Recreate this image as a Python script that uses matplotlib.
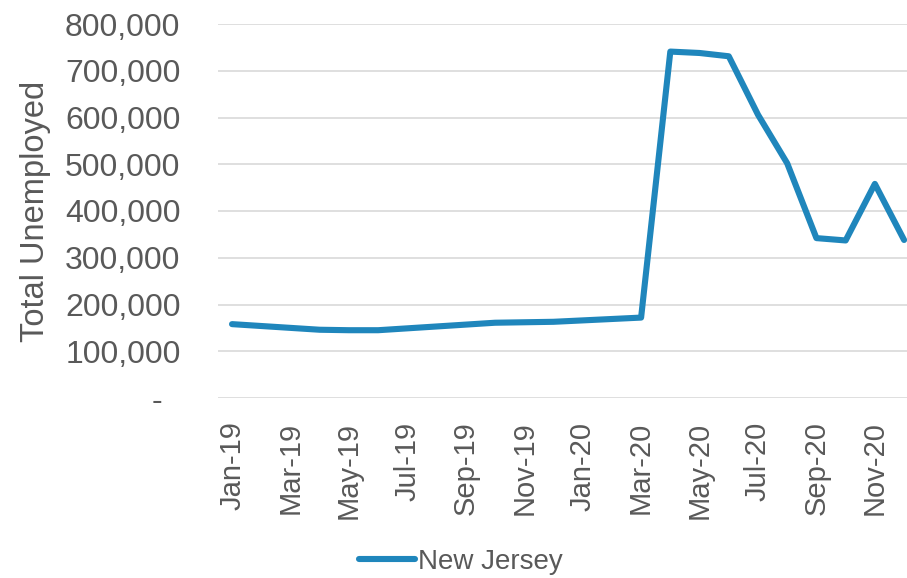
import matplotlib
matplotlib.use("Agg")
import matplotlib.pyplot as plt
from matplotlib.ticker import FuncFormatter, FixedLocator

months = ["Jan-19", "Feb-19", "Mar-19", "Apr-19", "May-19", "Jun-19",
          "Jul-19", "Aug-19", "Sep-19", "Oct-19", "Nov-19", "Dec-19",
          "Jan-20", "Feb-20", "Mar-20", "Apr-20", "May-20", "Jun-20",
          "Jul-20", "Aug-20", "Sep-20", "Oct-20", "Nov-20", "Dec-20"]
new_jersey = [158000, 154000, 150000, 146000, 145000, 145000,
              149000, 153000, 157000, 161000, 162000, 163000,
              166000, 169000, 172000, 741000, 738000, 731000,
              606000, 502000, 342000, 337000, 458000, 338000]
y_ticks = [0, 100000, 200000, 300000, 400000, 500000, 600000, 700000, 800000]

plt.rcParams["font.family"] = ["Liberation Sans", "DejaVu Sans"]
text_color = "#595959"
line_color = "#1F86BC"

fig = plt.figure(figsize=(9.07, 5.78), dpi=100)
ax = fig.add_axes([218 / 907, 1 - 398 / 578, (907 - 218) / 907, (398 - 24) / 578])

x = list(range(len(months)))
ax.plot(x, new_jersey, color=line_color, lw=4.4, solid_capstyle="round",
        solid_joinstyle="round", label="New Jersey", zorder=3)

ax.set_xlim(-0.48, 23.1)
ax.set_ylim(0, 800000)
ax.yaxis.set_major_locator(FixedLocator(y_ticks))
ax.yaxis.set_major_formatter(FuncFormatter(
    lambda v, p: "-  " if v == 0 else f"{int(v):,}"))
ax.set_xticks(x[::2])
ax.set_xticklabels(months[::2], rotation=90)

ax.grid(axis="y", color="#d9d9d9", lw=1.2, zorder=0)
for s in ax.spines.values():
    s.set_visible(False)
ax.tick_params(axis="both", length=0, colors=text_color)
ax.tick_params(axis="y", pad=27, labelsize=23)
ax.tick_params(axis="x", pad=17, labelsize=21)
ax.set_ylabel("Total Unemployed", fontsize=23.5, color=text_color, labelpad=10)

leg = fig.legend(loc="center", bbox_to_anchor=(461 / 907, 1 - 562 / 578),
                 frameon=False, fontsize=20, handlelength=2.0,
                 handletextpad=0.1, borderaxespad=0)
for t in leg.get_texts():
    t.set_color(text_color)

fig.savefig("out.png", dpi=100)
